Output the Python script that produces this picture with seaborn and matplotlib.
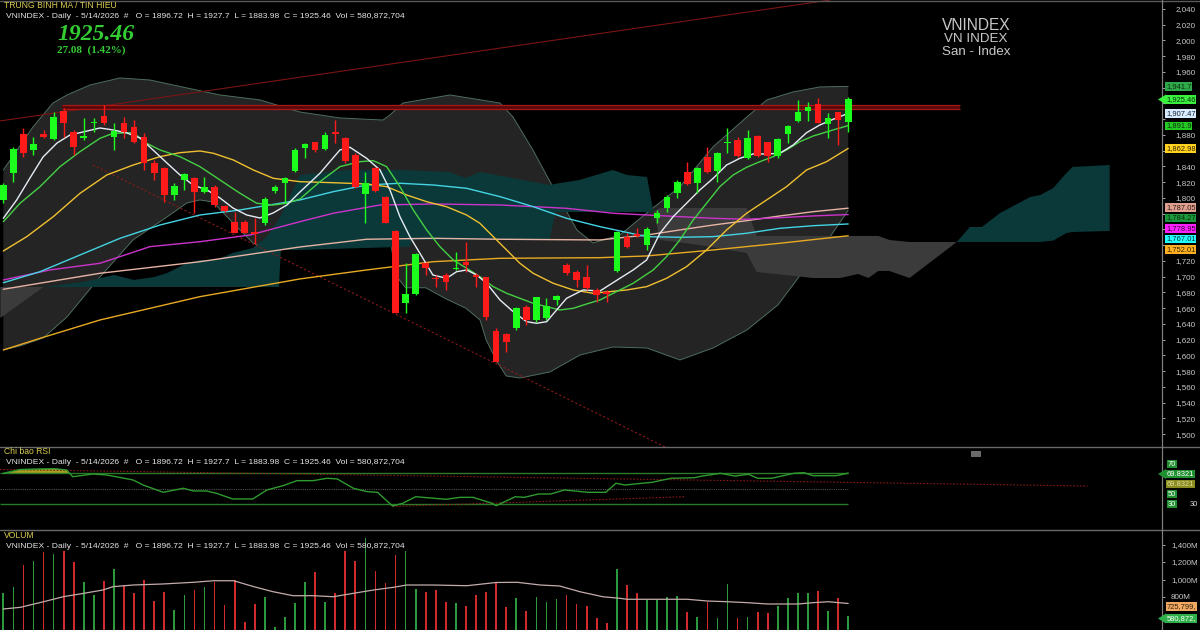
import numpy as np
import matplotlib
matplotlib.use("Agg")
import matplotlib.pyplot as plt
import seaborn as sns
from matplotlib.lines import Line2D
from matplotlib.patches import Polygon, Rectangle

# ---------------- data ----------------
opens = [1797.5, 1832.1, 1880.9, 1861.0, 1880.9, 1874.5, 1910.5, 1884.2, 1875.8, 1894.9,
         1904.5, 1877.8, 1895.6, 1890.5, 1877.8, 1844.8, 1838.5, 1803.8, 1822.9, 1825.0,
         1808.0, 1814.4, 1789.9, 1769.9, 1769.9, 1757.2, 1768.6, 1809.3, 1818.7, 1834.3,
         1863.1, 1870.7, 1861.8, 1884.2, 1875.8, 1854.6, 1804.7, 1837.7, 1801.7, 1758.5,
         1666.3, 1677.7, 1717.9, 1698.8, 1702.2, 1709.9, 1719.1, 1702.2, 1699.3, 1631.5,
         1626.9, 1634.6, 1662.0, 1645.1, 1647.3, 1670.5, 1715.0, 1706.4, 1700.1, 1683.2,
         1680.7, 1707.7, 1750.9, 1754.3, 1740.3, 1774.6, 1786.9, 1806.0, 1833.4, 1819.4,
         1852.5, 1834.7, 1869.5, 1873.7, 1850.4, 1879.1, 1870.7, 1853.3, 1881.3, 1898.2,
         1910.9, 1919.4, 1894.0, 1908.8, 1896.72]
highs = [1819.0, 1865.1, 1888.5, 1877.8, 1886.4, 1909.6, 1913.9, 1886.4, 1901.6, 1901.6,
         1918.1, 1894.9, 1903.2, 1899.0, 1882.2, 1848.3, 1839.7, 1818.7, 1831.4, 1827.0,
         1827.0, 1816.5, 1791.1, 1782.6, 1772.1, 1774.2, 1801.7, 1816.5, 1826.3, 1863.1,
         1869.5, 1871.5, 1883.8, 1899.0, 1877.8, 1856.8, 1833.4, 1839.4, 1802.5, 1759.4,
         1717.1, 1729.8, 1719.1, 1702.2, 1704.4, 1731.8, 1744.5, 1704.4, 1700.1, 1634.6,
         1628.9, 1662.0, 1664.1, 1674.7, 1672.6, 1676.8, 1717.1, 1708.6, 1715.0, 1685.7,
         1683.2, 1758.5, 1755.2, 1761.9, 1763.6, 1784.8, 1803.8, 1822.9, 1846.1, 1839.0,
         1865.1, 1858.8, 1888.5, 1877.8, 1886.4, 1880.0, 1871.5, 1875.8, 1892.7, 1924.5,
         1922.3, 1926.6, 1907.6, 1909.6, 1927.7]
lows = [1793.6, 1820.7, 1852.5, 1854.6, 1875.8, 1873.7, 1877.8, 1854.6, 1873.7, 1884.2,
        1892.7, 1861.0, 1875.8, 1869.5, 1835.6, 1822.9, 1795.3, 1797.5, 1810.2, 1780.6,
        1805.9, 1789.0, 1782.2, 1755.2, 1755.2, 1741.6, 1765.7, 1805.9, 1793.3, 1833.4,
        1850.4, 1858.8, 1861.0, 1869.5, 1844.8, 1812.3, 1767.9, 1807.6, 1767.9, 1653.6,
        1653.6, 1676.8, 1702.2, 1687.4, 1683.2, 1708.6, 1706.4, 1687.4, 1645.1, 1592.1,
        1604.8, 1632.4, 1638.7, 1642.9, 1645.1, 1664.1, 1702.2, 1687.4, 1683.2, 1668.3,
        1668.3, 1706.4, 1736.1, 1750.5, 1734.0, 1768.3, 1782.6, 1799.6, 1816.5, 1806.0,
        1832.1, 1820.7, 1856.8, 1851.7, 1849.2, 1852.5, 1846.1, 1850.4, 1869.5, 1896.9,
        1898.2, 1894.9, 1875.8, 1867.3, 1883.98]
closes = [1816.5, 1861.8, 1856.8, 1868.6, 1877.8, 1903.2, 1894.9, 1865.1, 1879.1, 1896.9,
          1894.9, 1885.5, 1883.4, 1871.5, 1844.8, 1831.4, 1803.8, 1815.2, 1830.1, 1808.0,
          1814.4, 1791.1, 1783.9, 1755.9, 1755.9, 1754.3, 1798.4, 1814.4, 1825.0, 1861.0,
          1868.2, 1861.0, 1880.0, 1880.9, 1847.4, 1814.4, 1818.7, 1809.3, 1768.6, 1654.4,
          1677.7, 1728.9, 1710.7, 1696.8, 1693.7, 1711.5, 1714.9, 1700.1, 1649.3, 1592.1,
          1616.8, 1660.0, 1645.1, 1673.9, 1663.3, 1675.6, 1704.4, 1695.9, 1685.3, 1676.8,
          1678.6, 1757.2, 1738.2, 1751.8, 1760.3, 1780.9, 1801.7, 1820.7, 1817.8, 1837.7,
          1833.4, 1857.5, 1871.5, 1853.3, 1875.8, 1853.3, 1853.3, 1874.5, 1891.4, 1909.6,
          1915.2, 1895.6, 1901.2, 1898.4, 1925.46]
volumes = [842, 918, 1166, 1211, 1318, 1288, 1326, 1197, 975, 823,
           986, 1120, 937, 842, 994, 754, 861, 651, 823, 880,
           911, 975, 709, 994, 518, 720, 803, 461, 575, 728,
           968, 1082, 746, 849, 1329, 1215, 1471, 1097, 957, 1280,
           1326, 891, 854, 880, 746, 728, 697, 823, 861, 975,
           682, 785, 643, 803, 746, 777, 823, 720, 697, 557,
           506, 1117, 937, 849, 766, 766, 797, 811, 632, 575,
           746, 557, 949, 557, 575, 625, 614, 697, 785, 849,
           842, 869, 643, 792, 580.87]

ma5_x = [0, 1.33, 2.65, 3.95, 5.34, 6.63, 7.92, 9.61, 10.9, 12.3, 13.59, 14.88, 16.27, 17.57, 18.86,
         20.25, 21.54, 22.83, 24.2, 25.52, 26.81, 28.2, 29.49, 31.48, 33.47, 34.46, 36.12, 37.45,
         38.44, 39.43, 40.42, 41.42, 42.71, 44.07, 45.07, 46.06, 47.06, 48.05, 49.38, 50.7, 52.03,
         53.02, 54.02, 55.01, 56.0, 57.65, 59.32, 61.3, 62.62, 63.96, 65.28, 66.6, 67.93, 69.25,
         70.58, 71.91, 73.23, 74.55, 75.89, 77.21, 78.53, 79.86, 81.18, 82.5, 84]
ma5_v = [1774.2, 1797.5, 1825.4, 1852.1, 1869.8, 1880.0, 1883.8, 1888.9, 1886.4, 1882.5, 1876.2,
         1861.0, 1844.4, 1829.2, 1816.5, 1810.2, 1800.0, 1787.3, 1778.4, 1774.6, 1780.9, 1791.1,
         1807.6, 1831.4, 1861.0, 1864.4, 1850.4, 1835.6, 1810.2, 1776.3, 1750.9, 1729.8, 1702.2,
         1698.0, 1706.4, 1708.6, 1702.2, 1691.7, 1670.5, 1655.6, 1642.9, 1640.9, 1642.9, 1657.8,
         1672.6, 1683.2, 1681.9, 1698.0, 1708.6, 1721.3, 1755.2, 1776.3, 1793.3, 1810.2, 1825.0,
         1841.9, 1850.4, 1855.9, 1855.9, 1856.8, 1867.3, 1882.9, 1892.7, 1899.9, 1907.47]
ma10_x = [0, 1.66, 3.65, 5.64, 7.62, 9.61, 10.93, 12.92, 14.25, 15.58, 17.56, 19.55, 21.54, 23.53,
          25.19, 26.84, 28.17, 29.49, 31.48, 33.47, 35.46, 36.78, 38.11, 39.43, 40.76, 42.09, 43.41,
          44.73, 46.06, 47.38, 48.71, 50.04, 51.36, 52.68, 54.02, 55.34, 56.66, 57.99, 59.32, 60.64,
          62.62, 64.61, 65.94, 67.26, 68.59, 69.92, 71.24, 72.56, 73.9, 75.22, 76.54, 77.87, 79.19,
          80.52, 82.5, 84]
ma10_v = [1769.9, 1793.3, 1814.4, 1839.8, 1858.8, 1875.8, 1882.2, 1882.9, 1869.5, 1861.0, 1852.5,
          1839.8, 1822.9, 1806.0, 1793.3, 1791.1, 1793.3, 1798.7, 1820.7, 1839.8, 1846.1, 1847.4,
          1839.8, 1814.4, 1784.8, 1759.4, 1738.2, 1721.3, 1710.8, 1700.1, 1687.4, 1679.0, 1672.6,
          1666.3, 1662.0, 1657.8, 1659.9, 1665.4, 1670.5, 1679.0, 1691.7, 1708.6, 1725.5, 1746.7,
          1772.1, 1793.3, 1814.4, 1829.2, 1839.0, 1846.1, 1852.5, 1861.0, 1871.5, 1878.7, 1886.4,
          1891.9]
ma20_x = [0, 2.33, 4.97, 7.62, 10.28, 12.92, 15.58, 17.56, 19.55, 20.88, 22.86, 24.85, 26.84, 29.49,
          32.8, 36.12, 38.11, 40.1, 42.09, 44.07, 46.06, 47.38, 48.71, 50.04, 51.36, 52.68, 54.67,
          56.66, 58.65, 61.97, 63.96, 65.94, 67.93, 69.92, 71.91, 73.9, 75.89, 77.87, 79.86, 81.85, 84]
ma20_v = [1732.7, 1750.9, 1776.3, 1805.9, 1829.2, 1841.9, 1852.5, 1857.5, 1859.7, 1856.8, 1848.3,
          1835.6, 1825.0, 1820.7, 1819.4, 1817.8, 1814.4, 1803.8, 1795.3, 1788.9, 1778.4, 1767.9,
          1750.9, 1734.0, 1717.1, 1704.4, 1691.7, 1683.2, 1679.0, 1683.2, 1687.4, 1698.0, 1712.8,
          1734.0, 1759.4, 1780.6, 1797.5, 1814.4, 1835.6, 1846.1, 1862.98]
cyan_x = [0, 3.65, 7.62, 11.6, 15.58, 19.55, 23.53, 27.5, 29.49, 32.8, 36.12, 39.43, 42.74, 46.06,
          49.38, 52.68, 56.0, 59.32, 63.96, 67.26, 70.58, 73.9, 77.21, 80.52, 84]
cyan_v = [1692.4, 1706.4, 1727.6, 1748.8, 1765.7, 1778.4, 1784.8, 1793.3, 1797.5, 1808.0, 1816.5,
          1818.7, 1816.5, 1812.3, 1801.7, 1789.0, 1774.2, 1763.6, 1750.9, 1750.1, 1750.9, 1755.2,
          1761.5, 1764.8, 1767.01]
mag_x = [0, 4.64, 9.61, 14.58, 19.55, 24.52, 29.49, 32.8, 37.45, 42.74, 49.38, 56.0, 60.64, 63.96,
         67.26, 70.58, 73.9, 77.21, 80.52, 84]
mag_v = [1695.9, 1708.6, 1717.1, 1738.2, 1744.5, 1753.0, 1769.9, 1780.6, 1791.1, 1792.4, 1791.1,
         1786.9, 1780.6, 1778.4, 1776.3, 1774.2, 1773.0, 1775.0, 1777.2, 1778.95]
pink_x = [0, 9.61, 19.55, 29.49, 36.12, 42.74, 49.38, 59.32, 63.96, 67.26, 70.58, 73.9, 77.21, 80.52, 84]
pink_v = [1684.1, 1704.4, 1719.1, 1737.8, 1747.6, 1748.8, 1747.6, 1746.7, 1753.0, 1759.4, 1765.7,
          1771.2, 1777.2, 1782.6, 1787.05]
orange_x = [0, 3.65, 9.61, 19.55, 29.49, 36.12, 42.74, 49.38, 59.32, 63.96, 70.58, 77.21, 84]
orange_v = [1607.0, 1621.8, 1645.1, 1674.7, 1697.2, 1708.6, 1719.1, 1723.4, 1724.2, 1726.4, 1734.0,
            1742.5, 1752.01]

bbu_x = [0, 2.95, 4.94, 6.33, 8.62, 11.6, 14.58, 18.26, 21.54, 25.52, 29.49, 33.47, 37.74, 38.44,
         39.73, 44.4, 49.38, 50.67, 52.65, 54.64, 57.03, 58.62, 61.3, 64.58, 67.26, 70.55, 73.93,
         75.92, 78.5, 81.18, 84]
bbu_v = [1835.6, 1890.2, 1920.6, 1930.8, 1943.5, 1952.4, 1949.8, 1939.7, 1930.8, 1924.5, 1909.2,
         1901.6, 1899.0, 1905.4, 1920.6, 1930.8, 1920.6, 1902.9, 1861.0, 1814.0, 1759.4, 1742.9,
         1753.0, 1787.3, 1814.0, 1864.8, 1902.9, 1924.5, 1934.6, 1941.0, 1941.7]
bbl_x = [0, 1.66, 3.95, 6.33, 9.61, 12.89, 16.27, 18.26, 19.55, 20.85, 22.83, 24.82, 26.21, 28.8,
         31.48, 34.46, 37.45, 38.5, 39.0, 40.0, 42.0, 44.0, 46.0, 47.4, 48.0, 49.0, 50.0, 51.36,
         54.34, 57.33, 60.61, 63.99, 67.27, 70.55, 73.93, 77.01, 79.99, 81.98, 84]
bbl_v = [1607.0, 1612.1, 1622.2, 1648.9, 1699.7, 1746.7, 1775.9, 1793.7, 1797.5, 1794.9, 1768.3,
         1742.9, 1735.2, 1737.8, 1742.9, 1744.1, 1746.7, 1745.5, 1702.0, 1686.0, 1686.0, 1672.0,
         1660.0, 1645.0, 1620.0, 1594.0, 1574.0, 1571.4, 1579.1, 1600.6, 1610.8, 1609.5, 1594.3,
         1609.5, 1632.4, 1664.1, 1714.9, 1746.7, 1784.27]

cloud_x = [-0.3, 4, 8, 11, 13, 15, 16.3, 18.3, 19.6, 21.2, 22.8, 24.8, 26.2, 27.4, 27.6, 29.5, 34.5,
           39.4, 40.4, 40.6, 44.4, 45.9, 47.4, 54.3, 54.9, 57.3, 60.6, 62, 64, 64.6, 65.3, 69.2,
           73.9, 74.9, 80.5, 83.2, 85, 86, 87, 88.1, 90.1, 94.8, 96.1, 97.3, 99.1, 102.1, 103.1,
           104.4, 105.7, 106.3, 110]
span_a = [1647.6, 1687.0, 1693.4, 1702.2, 1695.9, 1699.7, 1704.8, 1717.5, 1721.3, 1721.3, 1730.2,
          1736.5, 1750.5, 1773.0, 1778.0, 1829.2, 1835.6, 1835.6, 1835.0, 1835.0, 1833.0, 1825.4,
          1833.0, 1816.5, 1818.0, 1822.9, 1835.6, 1829.2, 1826.7, 1784.8, 1746.7, 1740.3, 1730.2,
          1706.0, 1698.4, 1698.4, 1703.5, 1698.4, 1707.3, 1707.3, 1698.4, 1744.1, 1763.2, 1763.2,
          1780.9, 1801.3, 1803.8, 1812.7, 1831.8, 1839.4, 1841.9]
span_b = [1687.0] * 14 + [1734.0, 1734.0, 1736.0, 1737.8, 1737.8, 1746.7, 1746.7, 1746.7, 1746.7,
                          1746.7, 1782.2, 1782.2, 1782.2, 1782.2, 1782.2, 1782.2, 1787.3, 1787.3,
                          1787.3, 1751.8, 1751.8, 1751.8, 1751.8, 1751.8, 1751.8, 1746.7, 1744.1,
                          1744.1, 1744.1, 1744.1, 1744.1, 1744.1, 1744.1, 1746.0, 1755.5, 1756.8,
                          1758.1]

rsi_x = [0, 1.66, 3.65, 5.1, 6.3, 6.9, 8.9, 10.3, 12.9, 13.9, 15.9, 17.9, 18.9, 20.2, 21.2, 22.8,
         24.8, 26.2, 27.8, 29.2, 30.8, 32.2, 33.2, 34.8, 36.2, 37.2, 38.7, 39.7, 41.0, 44.0, 45.4,
         46.7, 48.6, 49.0, 50.9, 51.8, 53.2, 54.4, 55.8, 58.1, 59.9, 60.9, 61.8, 64.5, 66.4, 68.7,
         69.5, 71.3, 72.7, 74.1, 75.0, 76.4, 78.6, 79.6, 80.5, 82.8, 84]
rsi_v = [69.6, 74.5, 75.2, 75.5, 73.9, 65.2, 68.7, 67.4, 61.0, 54.5, 45.1, 50.3, 46.8, 46.8, 43.8,
         36.5, 36.5, 48.1, 53.6, 60.1, 60.1, 63.2, 62.3, 50.3, 45.9, 45.1, 27.4, 30.9, 39.4, 36.1,
         38.6, 38.6, 30.9, 27.8, 39.4, 38.6, 42.9, 42.9, 48.1, 45.1, 45.1, 56.7, 54.5, 58.0, 63.2,
         63.9, 66.1, 69.6, 66.1, 68.3, 63.2, 63.2, 69.6, 70.4, 66.5, 66.5, 69.83]

vma_x = [0, 1.7, 4.0, 6.0, 8.0, 9.9, 10.9, 12.9, 15.9, 18.9, 20.9, 22.9, 24.9, 26.8, 28.8, 30.8,
         32.8, 34.8, 36.8, 38.8, 40.1, 42.7, 46.1, 49.0, 51.1, 53.4, 55.3, 57.3, 59.6, 61.3, 62.0,
         68.0, 70.0, 72.0, 74.0, 76.0, 79.0, 80.5, 82.0, 84]
vma_v = [663, 682, 746, 804, 842, 880, 918, 937, 949, 968, 986, 986, 918, 861, 815, 815, 803, 842,
         880, 911, 937, 937, 929, 966, 968, 937, 926, 861, 803, 785, 774, 774, 754, 746, 735, 720,
         720, 735, 746, 725.8]

# resistance band & trend lines (index, price)
resist_x = [5.8, 95.1]
resist_lo, resist_hi = 1913.1, 1918.6
trend_up_x, trend_up_y = [-0.33, 82.2], [1897.8, 2051.4]
trend_dn_x, trend_dn_y = [8.9, 65.8], [1841.9, 1483.8]
rsi_tr1_x, rsi_tr1_y = [-0.33, 107.8], [74.5, 53.2]
rsi_tr2_x, rsi_tr2_y = [38.7, 67.7], [26.8, 39.4]

price_ticks = list(range(1500, 2041, 20))
vol_ticks = [800, 1000, 1200, 1400]
# last values shown in tags on the price axis: text, box colour, text colour
right_labels = [
    ("1,941.7", "#2fa84a", "#0c2a10"),
    ("1,925.46", "#39f03c", "#0c2a10"),
    ("1,907.47", "#d8ecff", "#102030"),
    ("1,891.9", "#22cc22", "#0c2a10"),
    ("1,862.98", "#ffd21f", "#302000"),
    ("1,787.05", "#e0a090", "#301810"),
    ("1,784.27", "#1a9a3a", "#0c2a10"),
    ("1,778.95", "#ff22ff", "#300030"),
    ("1,767.01", "#22ffff", "#003030"),
    ("1,752.01", "#ffb020", "#302000"),
]
# vertical pixel position of each tag (the lower ones are stacked to avoid collisions)
right_label_py = [86.7, 99.5, 113.6, 125.9, 148.6, 207.5, 218.0, 228.5, 239.0, 249.5]

# ---------------- figure ----------------
sns.set_theme(style="dark")
plt.rcParams["font.family"] = ["Liberation Sans", "DejaVu Sans"]
W, H = 1200, 630
fig = plt.figure(figsize=(12, 6.3), dpi=100, facecolor="black")


def fax(l, t, r, b):
    return fig.add_axes([l / W, 1 - b / H, (r - l) / W, (b - t) / H])


def fpt(x, y):
    return (x / W, 1 - y / H)


ax = fax(0, 0, 1162, 447)
ax_r = fax(0, 447, 1162, 530)
ax_v = fax(0, 530, 1162, 630)
XL = (-0.33, 115.2)
for a in (ax, ax_r, ax_v):
    a.set_facecolor("black")
    a.set_xlim(*XL)
    a.grid(False)
    for s in ("left", "top", "bottom"):
        a.spines[s].set_visible(False)
    a.spines["right"].set_color("#808080")
    a.spines["right"].set_linewidth(0.8)
    a.yaxis.tick_right()
    a.set_xticks([])
    a.tick_params(axis="y", colors="#c0c0c0", labelsize=5.8, length=2.5, width=0.6,
                  pad=7, labelcolor="#c8c8c8")

idx = np.arange(len(closes))
o, h, l, c = map(np.array, (opens, highs, lows, closes))

# ---- main panel ----
YL = (1483.8, 2051.4)
ax.set_ylim(*YL)


def price_to_px(p):
    return (YL[1] - p) / (YL[1] - YL[0]) * 447


ax.set_yticks(price_ticks)
ax.set_yticklabels(["" if min(abs(price_to_px(t) - py) for py in right_label_py) < 8.5
                    else f"{t:,}" for t in price_ticks])

ax.fill(np.r_[bbu_x, bbl_x[::-1]], np.r_[bbu_v, bbl_v[::-1]], color="#242424", lw=0, zorder=1)
ax.plot(bbu_x, bbu_v, color="#4d6e5c", lw=0.7, zorder=1.5)
ax.plot(bbl_x, bbl_v, color="#4d6e5c", lw=0.7, zorder=1.5)

ca, cb, cx = np.array(span_a), np.array(span_b), np.array(cloud_x)
ax.fill_between(cx, ca, cb, where=ca >= cb, interpolate=True, color="#0b3939", lw=0, zorder=2)
ax.fill_between(cx, ca, cb, where=ca < cb, interpolate=True, color="#3b3b3b", lw=0, zorder=2)

ax.plot(trend_up_x, trend_up_y, color="#7a1414", lw=0.8, zorder=2.5)
ax.plot(trend_dn_x, trend_dn_y, color="#8a1a1a", lw=0.8, ls=(0, (2, 2)), zorder=2.5)

for xs, ys, col in [(pink_x, pink_v, "#e6b4a4"), (orange_x, orange_v, "#e8aa22"),
                    (mag_x, mag_v, "#cc33cc"), (cyan_x, cyan_v, "#44d4e4"),
                    (ma20_x, ma20_v, "#f0c030"), (ma10_x, ma10_v, "#44d044"),
                    (ma5_x, ma5_v, "#e4ecf4")]:
    sns.lineplot(x=xs, y=ys, ax=ax, color=col, lw=1.0, estimator=None, sort=False, zorder=3)

ax.fill_between(resist_x, resist_lo, resist_hi, color="#5a0808", lw=0, zorder=4)
ax.hlines([resist_lo, resist_hi], *resist_x, colors="#a81818", lw=0.9, zorder=4)

ccol = np.where(c >= o, "#1cff1c", "#ff1a1a")
ax.vlines(idx, l, h, colors=ccol, lw=1.0, zorder=5)
ax.bar(idx, np.maximum(np.abs(c - o), 1.3), bottom=np.minimum(o, c), width=0.66,
       color=ccol, lw=0, zorder=6)
ax.set_xlim(*XL)

# ---- RSI panel ----
ax_r.set_ylim(-3.5, 103.5)
ax_r.set_yticks([])
rx, rv = np.array(rsi_x), np.array(rsi_v)
ax_r.fill_between(rx, rv, 70, where=rv > 70, interpolate=True, color="#a8a020", lw=0)
ax_r.fill_between(rx, rv, 30, where=rv < 30, interpolate=True, color="#c83a20", lw=0)
ax_r.hlines([70, 30], -0.33, 84, colors="#2a7a2a", lw=1.0)
ax_r.hlines(50, -0.33, 84, colors="#505050", lw=0.8, linestyles=(0, (1, 1)))
ax_r.plot(rsi_tr1_x, rsi_tr1_y, color="#8a1a1a", lw=0.8, ls=(0, (1.5, 1.5)))
ax_r.plot(rsi_tr2_x, rsi_tr2_y, color="#8a1a1a", lw=0.8, ls=(0, (1.5, 1.5)))
sns.lineplot(x=rsi_x, y=rsi_v, ax=ax_r, color="#2f9a2f", lw=1.0, estimator=None, sort=False)
ax_r.set_xlim(*XL)

# ---- volume panel ----
ax_v.set_ylim(422.8, 1565.8)
ax_v.set_yticks(vol_ticks)
ax_v.set_yticklabels([f"{t:,}M" for t in vol_ticks])
ax_v.tick_params(axis="y", pad=4)
vcol = np.where(c >= o, "#2a9a3a", "#d02a2a")
ax_v.bar(idx, volumes, width=0.17, color=vcol, lw=0)
sns.lineplot(x=vma_x, y=vma_v, ax=ax_v, color="#c4acac", lw=0.9, estimator=None, sort=False)
ax_v.set_xlim(*XL)
for a in (ax, ax_r, ax_v):
    a.set_xlabel("")
    a.set_ylabel("")

# ---- frame lines ----
for y in (447, 530):
    fig.add_artist(Line2D([0, 1], [1 - y / H] * 2, color="#6a6a6a", lw=1.0))
fig.add_artist(Line2D([0, 1], [1 - 0.6 / H] * 2, color="#5a5a5a", lw=1.0))
fig.add_artist(Line2D([1162 / W] * 2, [0, 1], color="#808080", lw=0.8))
fig.add_artist(Rectangle(fpt(971, 457), 10 / W, 6 / H, transform=fig.transFigure,
                         fc="#6a6a6a", ec="none"))

# ---- texts ----
sub = "VNINDEX - Daily  - 5/14/2026  #   O = 1896.72  H = 1927.7  L = 1883.98  C = 1925.46  Vol = 580,872,704"
for title, ty in [("TRUNG BINH MA / TIN HIEU", 5), ("Chi bao RSI", 452), ("VOLUM", 536)]:
    fig.text(*fpt(4, ty), title, color="#d8cc50", fontsize=6.2, va="center", ha="left")
for sy in (16, 463, 546):
    fig.text(*fpt(6, sy), sub, color="#e6e6e6", fontsize=6.1, va="center", ha="left")
fig.text(*fpt(57, 35), "1925.46", color="#33cc33", fontsize=17, va="center", ha="left",
         family=["Liberation Serif", "DejaVu Serif"], fontweight="bold", fontstyle="italic")
fig.text(*fpt(57, 50), "27.08  (1.42%)", color="#33cc33", fontsize=8, va="center", ha="left",
         family=["Liberation Serif", "DejaVu Serif"], fontweight="bold")
# watermark title block (three tightly stacked lines, like the reference)
for s, yy, fs in [("VNINDEX", 25, 11.2), ("VN INDEX", 39, 9.6), ("San - Index", 52, 9.6)]:
    fig.text(*fpt(976, yy), s, color="#c8c8c8", fontsize=fs, va="center", ha="center",
             linespacing=1.0)


def tag(x, y, s, fc, tc, arrow=False, fs=5.4):
    fig.text(*fpt(x, y), s, color=tc, fontsize=fs, va="center", ha="left", zorder=20,
             bbox=dict(boxstyle="square,pad=0.1", fc=fc, ec="none"))
    if arrow:
        fig.add_artist(Polygon([fpt(1158, y), fpt(1166, y - 5), fpt(1166, y + 5)],
                               closed=True, transform=fig.transFigure, fc=fc, ec="none",
                               zorder=20))


for (s, fc, tc), py in zip(right_labels, right_label_py):
    tag(1166, py, s, fc, tc, arrow=(s == "1,925.46"))

tag(1168, 464, "70", "#1f8f2f", "#ffffff")
tag(1167, 474, "69.8321", "#1f8f2f", "#ffffff", arrow=True)
tag(1167, 484, "69.8321", "#8a8a20", "#e0e0a0")
tag(1168, 494, "50", "#1f8f2f", "#ffffff")
tag(1168, 504, "30", "#1f8f2f", "#ffffff")
fig.text(*fpt(1190, 504), "30", color="#e0e0e0", fontsize=5.4, va="center", ha="left")
tag(1167, 606.5, "725,799,", "#f0a860", "#302010")
tag(1167, 618.5, "580,872,", "#2fb04a", "#ffffff", arrow=True)

fig.savefig("out.png", dpi=100, facecolor="black")
